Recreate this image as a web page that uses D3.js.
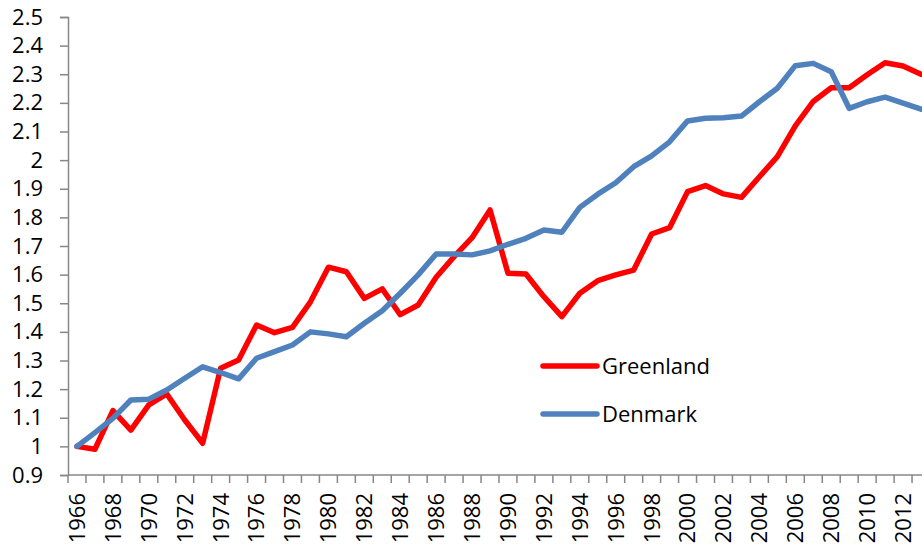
<!DOCTYPE html>
<html>
<head>
<meta charset="utf-8">
<script src="https://cdn.jsdelivr.net/npm/d3@7"></script>
<style>
  body { margin: 0; background: #fff; }
  svg { display: block; font-family: 'Open Sans', sans-serif; }
</style>
</head>
<body>
<div id="chart"></div>
<script>
// Data
const years = d3.range(1966, 2014);
const greenland = [
  1.00, 0.99, 1.125, 1.057, 1.145, 1.183, 1.092, 1.011, 1.273, 1.302,
  1.424, 1.397, 1.416, 1.505, 1.626, 1.610, 1.517, 1.550, 1.460, 1.494,
  1.591, 1.663, 1.729, 1.826, 1.605, 1.602, 1.523, 1.453, 1.535, 1.579,
  1.599, 1.616, 1.742, 1.764, 1.890, 1.911, 1.882, 1.870, 1.942, 2.012,
  2.120, 2.205, 2.253, 2.253, 2.298, 2.340, 2.329, 2.300
];
const denmark = [
  1.00, 1.048, 1.098, 1.162, 1.165, 1.197, 1.238, 1.278, 1.258, 1.236,
  1.308, 1.331, 1.354, 1.400, 1.393, 1.383, 1.430, 1.474, 1.535, 1.599,
  1.672, 1.672, 1.669, 1.683, 1.706, 1.727, 1.756, 1.748, 1.835, 1.881,
  1.921, 1.977, 2.015, 2.064, 2.137, 2.146, 2.148, 2.154, 2.204, 2.251,
  2.330, 2.338, 2.309, 2.181, 2.204, 2.220, 2.199, 2.178
];
const yTicks = [0.9, 1.0, 1.1, 1.2, 1.3, 1.4, 1.5, 1.6, 1.7, 1.8, 1.9, 2.0, 2.1, 2.2, 2.3, 2.4, 2.5];
const xLabelYears = years.filter(y => y % 2 === 0);
const seriesNames = ['Greenland', 'Denmark'];
const seriesColors = ['#FF0000', '#4F81BD'];

const width = 922, height = 550;
const plot = { left: 68, right: 930, top: 17, bottom: 475 };

const svg = d3.select('#chart').append('svg')
  .attr('width', width)
  .attr('height', height);

const x = d3.scaleBand()
  .domain(years)
  .range([plot.left, plot.right])
  .padding(0);

const y = d3.scaleLinear()
  .domain([0.9, 2.5])
  .range([plot.bottom, plot.top]);

const axisColor = '#878787';

// Y axis
const yAxis = svg.append('g')
  .attr('transform', `translate(${plot.left},0)`)
  .call(d3.axisLeft(y)
    .tickValues(yTicks)
    .tickSize(8)
    .tickPadding(17)
    .tickFormat(d => String(+d.toFixed(1))));
yAxis.select('.domain').attr('stroke', axisColor).attr('stroke-width', 1.5);
yAxis.selectAll('.tick line').attr('stroke', axisColor).attr('stroke-width', 1.5);
yAxis.selectAll('.tick text')
  .attr('fill', '#000')
  .style('font-size', '22px')
  .style('font-family', 'Open Sans');

// X axis: tick marks on category boundaries
const xTicks = svg.append('g')
  .attr('transform', `translate(0,${plot.bottom})`);
xTicks.append('line')
  .attr('x1', plot.left).attr('x2', plot.right)
  .attr('y1', 0).attr('y2', 0)
  .attr('stroke', axisColor).attr('stroke-width', 1.5);
xTicks.selectAll('line.tk')
  .data(years.concat([years[years.length - 1] + 1]))
  .join('line')
  .attr('class', 'tk')
  .attr('x1', d => d <= years[years.length - 1] ? x(d) : plot.right)
  .attr('x2', d => d <= years[years.length - 1] ? x(d) : plot.right)
  .attr('y1', 0).attr('y2', 8)
  .attr('stroke', axisColor).attr('stroke-width', 1.5);

// X axis labels (every other year, rotated)
const xAxis = svg.append('g')
  .attr('transform', `translate(0,${plot.bottom})`)
  .call(d3.axisBottom(x).tickValues(xLabelYears).tickSize(0));
xAxis.select('.domain').remove();
xAxis.selectAll('.tick text')
  .attr('transform', 'rotate(-90)')
  .attr('x', -18)
  .attr('y', 0)
  .attr('dy', '0.36em')
  .attr('fill', '#000')
  .style('text-anchor', 'end')
  .style('font-size', '22px')
  .style('font-family', 'Open Sans');

// Lines
const line = d3.line()
  .x((d, i) => x(years[i]) + x.bandwidth() / 2)
  .y(d => y(d));

[greenland, denmark].forEach((vals, k) => {
  svg.append('path')
    .datum(vals)
    .attr('fill', 'none')
    .attr('stroke', seriesColors[k])
    .attr('stroke-width', 5.5)
    .attr('stroke-linejoin', 'round')
    .attr('stroke-linecap', 'round')
    .attr('d', line);
});

// Legend
const legend = svg.append('g').attr('transform', 'translate(543,366)');
seriesNames.forEach((name, k) => {
  const g = legend.append('g').attr('transform', `translate(0,${k * 48})`);
  g.append('line')
    .attr('x1', 0).attr('x2', 54)
    .attr('y1', 0).attr('y2', 0)
    .attr('stroke', seriesColors[k])
    .attr('stroke-width', 5.5)
    .attr('stroke-linecap', 'round');
  g.append('text')
    .attr('x', 59)
    .attr('y', 0)
    .attr('dy', '0.35em')
    .style('font-size', '22px')
    .style('font-family', 'Open Sans')
    .text(name);
});
</script>
</body>
</html>
